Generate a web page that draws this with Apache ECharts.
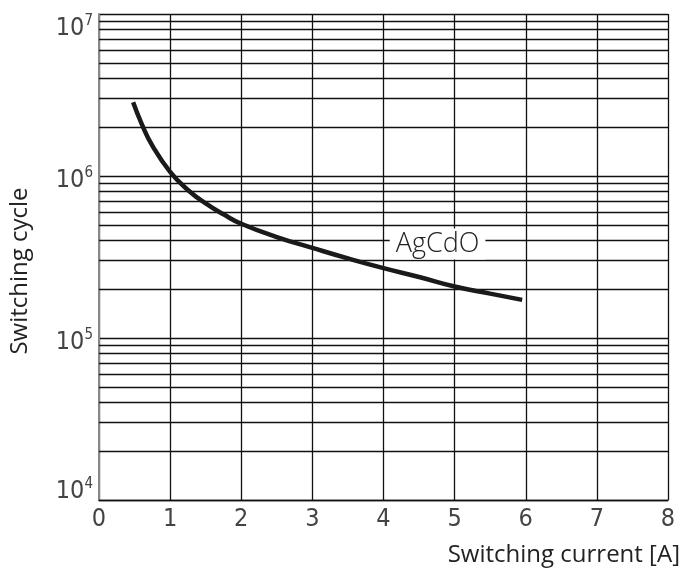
<!DOCTYPE html>
<html lang="en">
<head>
<meta charset="utf-8">
<script src="https://cdn.jsdelivr.net/npm/echarts@6/dist/echarts.min.js"></script>
<style>
    html, body { margin: 0; padding: 0; background: #fff; }
    #chart { width: 683px; height: 573px; }
</style>
</head>
<body>
<div id="chart"></div>
<script>
    // 曲线数据 (开关电流 A, 开关次数)
    var currentA = [0.48, 0.6, 0.75, 1.0, 1.25, 1.5, 1.75, 2.0, 2.5, 3.0, 3.5, 4.0, 4.5, 5.0, 5.5, 5.95];
    var cycles = [2850000, 2100000, 1540000, 1060000, 820000, 677000, 580000, 507000, 420000, 360000, 310000, 270000, 238000, 208000, 188000, 172000];

    var xTicks = [0, 1, 2, 3, 4, 5, 6, 7, 8];
    // 对数坐标的次网格线 (2..9 x 10^n)
    var minorLines = [];
    [10000, 100000, 1000000].forEach(function (d) {
        for (var k = 2; k <= 9; k++) minorLines.push(k * d);
    });

    var curveName = 'AgCdO';
    var labelPos = [4.76, 380000];

    var numFont = "'DejaVu Sans Condensed', Roboto, sans-serif";
    var textFont = "'Open Sans', sans-serif";
    var numColor = '#444';

    var chart = echarts.init(document.getElementById('chart'));

    var lineData = currentA.map(function (x, i) { return [x, cycles[i]]; });

    // y轴刻度文字: 10的指数, 顶部和底部的文字往里挪
    function richFor(padTop, padBottom) {
        return {
            b: { fontFamily: numFont, fontSize: 25, color: numColor, padding: [padTop, 0, padBottom, 0] },
            s: { fontFamily: numFont, fontSize: 15, color: numColor, padding: [padTop, 0, padBottom + 14, 0] }
        };
    }
    var r0 = richFor(8, 0), rTop = richFor(28, 0), rBot = richFor(0, 18);
    var yRich = {
        b: r0.b, s: r0.s,
        bt: rTop.b, st: rTop.s,
        bb: rBot.b, sb: rBot.s
    };

    var option = {
        animation: false,
        grid: { left: 98, right: 15, top: 14, bottom: 73 },
        xAxis: {
            type: 'value',
            min: xTicks[0],
            max: xTicks[xTicks.length - 1],
            interval: 1,
            name: 'Switching current [A]',
            nameLocation: 'end',
            nameGap: 12,
            nameTextStyle: {
                fontFamily: textFont,
                fontSize: 24,
                color: '#222',
                align: 'right',
                verticalAlign: 'top',
                padding: [43, 0, 0, 0]
            },
            axisLine: { show: true, lineStyle: { color: '#111', width: 1.3 } },
            axisTick: { show: false },
            axisLabel: {
                fontFamily: numFont,
                fontSize: 25,
                color: numColor,
                margin: 7
            },
            splitLine: { show: true, lineStyle: { color: '#111', width: 1.3 } }
        },
        yAxis: {
            type: 'log',
            logBase: 10,
            min: 10000,
            max: 10000000,
            name: 'Switching cycle',
            nameLocation: 'middle',
            nameGap: 67,
            nameRotate: 90,
            nameTextStyle: {
                fontFamily: textFont,
                fontSize: 24,
                color: '#222',
                padding: [0, 28, 0, 0]
            },
            axisLine: { show: true, lineStyle: { color: '#888', width: 2 } },
            axisTick: { show: false },
            axisLabel: {
                margin: 6,
                formatter: function (v) {
                    var e = Math.round(Math.log10(v));
                    var k = e === 7 ? 't' : (e === 4 ? 'b' : '');
                    return '{b' + k + '|10}{s' + k + '|' + e + '}';
                },
                rich: yRich
            },
            splitLine: { show: true, lineStyle: { color: '#111', width: 1.3 } }
        },
        series: [
            {
                name: curveName,
                type: 'line',
                data: lineData,
                smooth: true,
                symbol: 'none',
                lineStyle: { color: '#1a1a1a', width: 4.5 },
                z: 5,
                markLine: {
                    silent: true,
                    symbol: 'none',
                    label: { show: false },
                    lineStyle: { color: '#111', width: 1.3, type: 'solid' },
                    data: minorLines.map(function (y) { return { yAxis: y }; })
                },
                markPoint: {
                    silent: true,
                    symbol: 'rect',
                    symbolSize: 0,
                    data: [{ coord: labelPos }],
                    label: {
                        show: true,
                        formatter: curveName,
                        position: 'inside',
                        fontFamily: textFont,
                        fontWeight: 300,
                        fontSize: 27,
                        color: '#222',
                        backgroundColor: '#fff',
                        padding: [2, 6, 2, 6]
                    },
                    z: 6
                }
            }
        ]
    };

    chart.setOption(option);
</script>
</body>
</html>
